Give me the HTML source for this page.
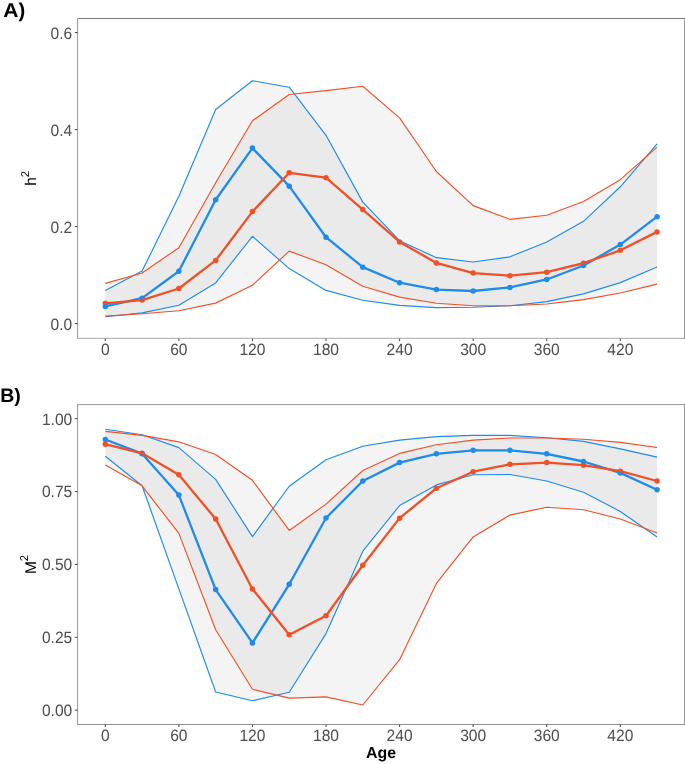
<!DOCTYPE html>
<html><head><meta charset="utf-8"><style>
html,body{margin:0;padding:0;background:#fff;}
body{width:685px;height:764px;overflow:hidden;}
svg{display:block;}
text{}
text{font-family:"Liberation Sans",sans-serif;text-rendering:geometricPrecision;}
.tk{font-size:15.6px;fill:#4D4D4D;}
.ttl{font-size:15.5px;fill:#000;}
.pl{font-size:19.5px;font-weight:bold;fill:#000;}
</style></head><body>
<svg width="685" height="764" viewBox="0 0 685 764" style="will-change:transform">
<polygon points="105.3,290.42 142.09,271.02 178.87,196.33 215.66,109.51 252.44,80.71 289.23,87.2 326.01,135.32 362.8,202.15 399.59,240.71 436.37,257.68 473.16,262 509.94,256.81 546.73,241.92 583.51,221.31 620.3,186.78 657.09,143.95 657.09,266.99 620.3,282.61 583.51,293.91 546.73,301.57 509.94,305.79 473.16,307.2 436.37,307.59 399.59,305.31 362.8,300.22 326.01,290.42 289.23,268.59 252.44,236.29 215.66,282.95 178.87,305.31 142.09,312.88 105.3,316.71" fill="#B3B3B3" fill-opacity="0.15"/>
<polygon points="105.3,283.39 142.09,272.96 178.87,247.74 215.66,182.75 252.44,120.82 289.23,94.48 326.01,90.6 362.8,86.28 399.59,117.91 436.37,171.5 473.16,205.59 509.94,219.32 546.73,215.24 583.51,201.42 620.3,179.69 657.09,147.1 657.09,284.11 620.3,292.99 583.51,299.63 546.73,304 509.94,305.79 473.16,305.79 436.37,303.22 399.59,297.11 362.8,286.2 326.01,264.71 289.23,251.13 252.44,285.28 215.66,303.13 178.87,310.79 142.09,313.8 105.3,316.12" fill="#B3B3B3" fill-opacity="0.15"/>
<circle cx="105.3" cy="303.32" r="2.75" fill="#F25026"/>
<circle cx="142.09" cy="300.12" r="2.75" fill="#F25026"/>
<circle cx="178.87" cy="288.48" r="2.75" fill="#F25026"/>
<circle cx="215.66" cy="260.45" r="2.75" fill="#F25026"/>
<circle cx="252.44" cy="211.61" r="2.75" fill="#F25026"/>
<circle cx="289.23" cy="172.81" r="2.75" fill="#F25026"/>
<circle cx="326.01" cy="177.71" r="2.75" fill="#F25026"/>
<circle cx="362.8" cy="209.62" r="2.75" fill="#F25026"/>
<circle cx="399.59" cy="241.92" r="2.75" fill="#F25026"/>
<circle cx="436.37" cy="262.92" r="2.75" fill="#F25026"/>
<circle cx="473.16" cy="273.11" r="2.75" fill="#F25026"/>
<circle cx="509.94" cy="275.72" r="2.75" fill="#F25026"/>
<circle cx="546.73" cy="272.14" r="2.75" fill="#F25026"/>
<circle cx="583.51" cy="263.21" r="2.75" fill="#F25026"/>
<circle cx="620.3" cy="250.31" r="2.75" fill="#F25026"/>
<circle cx="657.09" cy="231.88" r="2.75" fill="#F25026"/>
<circle cx="105.3" cy="306.42" r="2.75" fill="#1F8BEA"/>
<circle cx="142.09" cy="298.18" r="2.75" fill="#1F8BEA"/>
<circle cx="178.87" cy="271.21" r="2.75" fill="#1F8BEA"/>
<circle cx="215.66" cy="199.72" r="2.75" fill="#1F8BEA"/>
<circle cx="252.44" cy="148.12" r="2.75" fill="#1F8BEA"/>
<circle cx="289.23" cy="186.14" r="2.75" fill="#1F8BEA"/>
<circle cx="326.01" cy="237.22" r="2.75" fill="#1F8BEA"/>
<circle cx="362.8" cy="267.14" r="2.75" fill="#1F8BEA"/>
<circle cx="399.59" cy="282.71" r="2.75" fill="#1F8BEA"/>
<circle cx="436.37" cy="289.6" r="2.75" fill="#1F8BEA"/>
<circle cx="473.16" cy="291" r="2.75" fill="#1F8BEA"/>
<circle cx="509.94" cy="287.41" r="2.75" fill="#1F8BEA"/>
<circle cx="546.73" cy="279.46" r="2.75" fill="#1F8BEA"/>
<circle cx="583.51" cy="265.49" r="2.75" fill="#1F8BEA"/>
<circle cx="620.3" cy="244.59" r="2.75" fill="#1F8BEA"/>
<circle cx="657.09" cy="216.7" r="2.75" fill="#1F8BEA"/>
<polyline points="105.3,290.42 142.09,271.02 178.87,196.33 215.66,109.51 252.44,80.71 289.23,87.2 326.01,135.32 362.8,202.15 399.59,240.71 436.37,257.68 473.16,262 509.94,256.81 546.73,241.92 583.51,221.31 620.3,186.78 657.09,143.95" fill="none" stroke="#1F8BEA" stroke-width="1.15" stroke-linejoin="round"/>
<polyline points="105.3,316.71 142.09,312.88 178.87,305.31 215.66,282.95 252.44,236.29 289.23,268.59 326.01,290.42 362.8,300.22 399.59,305.31 436.37,307.59 473.16,307.2 509.94,305.79 546.73,301.57 583.51,293.91 620.3,282.61 657.09,266.99" fill="none" stroke="#1F8BEA" stroke-width="1.15" stroke-linejoin="round"/>
<polyline points="105.3,283.39 142.09,272.96 178.87,247.74 215.66,182.75 252.44,120.82 289.23,94.48 326.01,90.6 362.8,86.28 399.59,117.91 436.37,171.5 473.16,205.59 509.94,219.32 546.73,215.24 583.51,201.42 620.3,179.69 657.09,147.1" fill="none" stroke="#F25026" stroke-width="1.15" stroke-linejoin="round"/>
<polyline points="105.3,316.12 142.09,313.8 178.87,310.79 215.66,303.13 252.44,285.28 289.23,251.13 326.01,264.71 362.8,286.2 399.59,297.11 436.37,303.22 473.16,305.79 509.94,305.79 546.73,304 583.51,299.63 620.3,292.99 657.09,284.11" fill="none" stroke="#F25026" stroke-width="1.15" stroke-linejoin="round"/>
<polyline points="105.3,306.42 142.09,298.18 178.87,271.21 215.66,199.72 252.44,148.12 289.23,186.14 326.01,237.22 362.8,267.14 399.59,282.71 436.37,289.6 473.16,291 509.94,287.41 546.73,279.46 583.51,265.49 620.3,244.59 657.09,216.7" fill="none" stroke="#1F8BEA" stroke-width="2.3" stroke-linejoin="round"/>
<polyline points="105.3,303.32 142.09,300.12 178.87,288.48 215.66,260.45 252.44,211.61 289.23,172.81 326.01,177.71 362.8,209.62 399.59,241.92 436.37,262.92 473.16,273.11 509.94,275.72 546.73,272.14 583.51,263.21 620.3,250.31 657.09,231.88" fill="none" stroke="#F25026" stroke-width="2.3" stroke-linejoin="round"/>
<rect x="77" y="18" width="608" height="1" fill="#7A7A7A" shape-rendering="crispEdges"/>
<rect x="78" y="19" width="606" height="1" fill="#FAFAFA" shape-rendering="crispEdges"/>
<rect x="77" y="338" width="608" height="1" fill="#B8B8B8" shape-rendering="crispEdges"/>
<rect x="78" y="337" width="606" height="1" fill="#EFEFEF" shape-rendering="crispEdges"/>
<rect x="77" y="18" width="1" height="321" fill="#A0A0A0" shape-rendering="crispEdges"/>
<rect x="78" y="19" width="1" height="318" fill="#F4F4F4" shape-rendering="crispEdges"/>
<rect x="684" y="18" width="1" height="321" fill="#959595" shape-rendering="crispEdges"/>
<line x1="74.9" y1="323.55" x2="77.5" y2="323.55" stroke="#4A4A4A" stroke-width="1.05"/>
<text transform="translate(72.3,329.6) scale(1.0,1.05)" text-anchor="end" class="tk">0.0</text>
<line x1="74.9" y1="226.55" x2="77.5" y2="226.55" stroke="#4A4A4A" stroke-width="1.05"/>
<text transform="translate(72.3,232.6) scale(1.0,1.05)" text-anchor="end" class="tk">0.2</text>
<line x1="74.9" y1="129.55" x2="77.5" y2="129.55" stroke="#4A4A4A" stroke-width="1.05"/>
<text transform="translate(72.3,135.6) scale(1.0,1.05)" text-anchor="end" class="tk">0.4</text>
<line x1="74.9" y1="32.55" x2="77.5" y2="32.55" stroke="#4A4A4A" stroke-width="1.05"/>
<text transform="translate(72.3,38.6) scale(1.0,1.05)" text-anchor="end" class="tk">0.6</text>
<line x1="105.3" y1="338.4" x2="105.3" y2="341.0" stroke="#4A4A4A" stroke-width="1.05"/>
<text transform="translate(105.3,355.0) scale(1.0,1.05)" text-anchor="middle" class="tk">0</text>
<line x1="178.87" y1="338.4" x2="178.87" y2="341.0" stroke="#4A4A4A" stroke-width="1.05"/>
<text transform="translate(178.87,355.0) scale(1.0,1.05)" text-anchor="middle" class="tk">60</text>
<line x1="252.44" y1="338.4" x2="252.44" y2="341.0" stroke="#4A4A4A" stroke-width="1.05"/>
<text transform="translate(252.44,355.0) scale(1.0,1.05)" text-anchor="middle" class="tk">120</text>
<line x1="326.01" y1="338.4" x2="326.01" y2="341.0" stroke="#4A4A4A" stroke-width="1.05"/>
<text transform="translate(326.01,355.0) scale(1.0,1.05)" text-anchor="middle" class="tk">180</text>
<line x1="399.59" y1="338.4" x2="399.59" y2="341.0" stroke="#4A4A4A" stroke-width="1.05"/>
<text transform="translate(399.59,355.0) scale(1.0,1.05)" text-anchor="middle" class="tk">240</text>
<line x1="473.16" y1="338.4" x2="473.16" y2="341.0" stroke="#4A4A4A" stroke-width="1.05"/>
<text transform="translate(473.16,355.0) scale(1.0,1.05)" text-anchor="middle" class="tk">300</text>
<line x1="546.73" y1="338.4" x2="546.73" y2="341.0" stroke="#4A4A4A" stroke-width="1.05"/>
<text transform="translate(546.73,355.0) scale(1.0,1.05)" text-anchor="middle" class="tk">360</text>
<line x1="620.3" y1="338.4" x2="620.3" y2="341.0" stroke="#4A4A4A" stroke-width="1.05"/>
<text transform="translate(620.3,355.0) scale(1.0,1.05)" text-anchor="middle" class="tk">420</text>
<polygon points="105.3,429.29 142.09,434.71 178.87,447.65 215.66,479.4 252.44,536.59 289.23,486.22 326.01,459.69 362.8,446.28 399.59,440.1 436.37,436.61 473.16,435.41 509.94,435.41 546.73,437.71 583.51,441.39 620.3,448.91 657.09,457.1 657.09,537 620.3,511.41 583.51,492.2 546.73,481 509.94,474.5 473.16,474.79 436.37,484.91 399.59,505.6 362.8,551.22 326.01,633.6 289.23,692.31 252.44,700.71 215.66,691.99 178.87,588.83 142.09,485.81 105.3,456.31" fill="#B3B3B3" fill-opacity="0.15"/>
<polygon points="105.3,431.42 142.09,435.41 178.87,441.82 215.66,454.5 252.44,480.3 289.23,530.41 326.01,504.15 362.8,470.48 399.59,453.4 436.37,444.71 473.16,440.1 509.94,438.01 546.73,438.01 583.51,439.29 620.3,442.41 657.09,447.51 657.09,533.01 620.3,519.01 583.51,509.71 546.73,507.21 509.94,515.08 473.16,536.91 436.37,583.41 399.59,659.69 362.8,704.99 326.01,696.89 289.23,698.11 252.44,689.31 215.66,629.81 178.87,533.41 142.09,485.81 105.3,465.11" fill="#B3B3B3" fill-opacity="0.15"/>
<circle cx="105.3" cy="444.19" r="2.75" fill="#F25026"/>
<circle cx="142.09" cy="453.28" r="2.75" fill="#F25026"/>
<circle cx="178.87" cy="474.71" r="2.75" fill="#F25026"/>
<circle cx="215.66" cy="519.01" r="2.75" fill="#F25026"/>
<circle cx="252.44" cy="588.94" r="2.75" fill="#F25026"/>
<circle cx="289.23" cy="634.71" r="2.75" fill="#F25026"/>
<circle cx="326.01" cy="615.7" r="2.75" fill="#F25026"/>
<circle cx="362.8" cy="565.3" r="2.75" fill="#F25026"/>
<circle cx="399.59" cy="518.14" r="2.75" fill="#F25026"/>
<circle cx="436.37" cy="488.26" r="2.75" fill="#F25026"/>
<circle cx="473.16" cy="471.7" r="2.75" fill="#F25026"/>
<circle cx="509.94" cy="464.3" r="2.75" fill="#F25026"/>
<circle cx="546.73" cy="462.61" r="2.75" fill="#F25026"/>
<circle cx="583.51" cy="465.2" r="2.75" fill="#F25026"/>
<circle cx="620.3" cy="471.21" r="2.75" fill="#F25026"/>
<circle cx="657.09" cy="481" r="2.75" fill="#F25026"/>
<circle cx="105.3" cy="439.49" r="2.75" fill="#1F8BEA"/>
<circle cx="142.09" cy="453.69" r="2.75" fill="#1F8BEA"/>
<circle cx="178.87" cy="495.11" r="2.75" fill="#1F8BEA"/>
<circle cx="215.66" cy="589.61" r="2.75" fill="#1F8BEA"/>
<circle cx="252.44" cy="642.96" r="2.75" fill="#1F8BEA"/>
<circle cx="289.23" cy="584.31" r="2.75" fill="#1F8BEA"/>
<circle cx="326.01" cy="517.99" r="2.75" fill="#1F8BEA"/>
<circle cx="362.8" cy="481" r="2.75" fill="#1F8BEA"/>
<circle cx="399.59" cy="462.61" r="2.75" fill="#1F8BEA"/>
<circle cx="436.37" cy="453.8" r="2.75" fill="#1F8BEA"/>
<circle cx="473.16" cy="450.31" r="2.75" fill="#1F8BEA"/>
<circle cx="509.94" cy="450.31" r="2.75" fill="#1F8BEA"/>
<circle cx="546.73" cy="453.8" r="2.75" fill="#1F8BEA"/>
<circle cx="583.51" cy="461.5" r="2.75" fill="#1F8BEA"/>
<circle cx="620.3" cy="472.9" r="2.75" fill="#1F8BEA"/>
<circle cx="657.09" cy="489.69" r="2.75" fill="#1F8BEA"/>
<polyline points="105.3,429.29 142.09,434.71 178.87,447.65 215.66,479.4 252.44,536.59 289.23,486.22 326.01,459.69 362.8,446.28 399.59,440.1 436.37,436.61 473.16,435.41 509.94,435.41 546.73,437.71 583.51,441.39 620.3,448.91 657.09,457.1" fill="none" stroke="#1F8BEA" stroke-width="1.15" stroke-linejoin="round"/>
<polyline points="105.3,456.31 142.09,485.81 178.87,588.83 215.66,691.99 252.44,700.71 289.23,692.31 326.01,633.6 362.8,551.22 399.59,505.6 436.37,484.91 473.16,474.79 509.94,474.5 546.73,481 583.51,492.2 620.3,511.41 657.09,537" fill="none" stroke="#1F8BEA" stroke-width="1.15" stroke-linejoin="round"/>
<polyline points="105.3,431.42 142.09,435.41 178.87,441.82 215.66,454.5 252.44,480.3 289.23,530.41 326.01,504.15 362.8,470.48 399.59,453.4 436.37,444.71 473.16,440.1 509.94,438.01 546.73,438.01 583.51,439.29 620.3,442.41 657.09,447.51" fill="none" stroke="#F25026" stroke-width="1.15" stroke-linejoin="round"/>
<polyline points="105.3,465.11 142.09,485.81 178.87,533.41 215.66,629.81 252.44,689.31 289.23,698.11 326.01,696.89 362.8,704.99 399.59,659.69 436.37,583.41 473.16,536.91 509.94,515.08 546.73,507.21 583.51,509.71 620.3,519.01 657.09,533.01" fill="none" stroke="#F25026" stroke-width="1.15" stroke-linejoin="round"/>
<polyline points="105.3,439.49 142.09,453.69 178.87,495.11 215.66,589.61 252.44,642.96 289.23,584.31 326.01,517.99 362.8,481 399.59,462.61 436.37,453.8 473.16,450.31 509.94,450.31 546.73,453.8 583.51,461.5 620.3,472.9 657.09,489.69" fill="none" stroke="#1F8BEA" stroke-width="2.3" stroke-linejoin="round"/>
<polyline points="105.3,444.19 142.09,453.28 178.87,474.71 215.66,519.01 252.44,588.94 289.23,634.71 326.01,615.7 362.8,565.3 399.59,518.14 436.37,488.26 473.16,471.7 509.94,464.3 546.73,462.61 583.51,465.2 620.3,471.21 657.09,481" fill="none" stroke="#F25026" stroke-width="2.3" stroke-linejoin="round"/>
<rect x="77" y="404" width="608" height="1" fill="#A0A0A0" shape-rendering="crispEdges"/>
<rect x="78" y="405" width="606" height="1" fill="#F5F5F5" shape-rendering="crispEdges"/>
<rect x="77" y="724" width="608" height="1" fill="#8E8E8E" shape-rendering="crispEdges"/>
<rect x="77" y="404" width="1" height="321" fill="#A0A0A0" shape-rendering="crispEdges"/>
<rect x="78" y="405" width="1" height="319" fill="#F4F4F4" shape-rendering="crispEdges"/>
<rect x="684" y="404" width="1" height="321" fill="#959595" shape-rendering="crispEdges"/>
<line x1="74.9" y1="710.2" x2="77.5" y2="710.2" stroke="#4A4A4A" stroke-width="1.05"/>
<text transform="translate(72.3,716) scale(1.0,1.05)" text-anchor="end" class="tk">0.00</text>
<line x1="74.9" y1="637.32" x2="77.5" y2="637.32" stroke="#4A4A4A" stroke-width="1.05"/>
<text transform="translate(72.3,643.12) scale(1.0,1.05)" text-anchor="end" class="tk">0.25</text>
<line x1="74.9" y1="564.45" x2="77.5" y2="564.45" stroke="#4A4A4A" stroke-width="1.05"/>
<text transform="translate(72.3,570.25) scale(1.0,1.05)" text-anchor="end" class="tk">0.50</text>
<line x1="74.9" y1="491.57" x2="77.5" y2="491.57" stroke="#4A4A4A" stroke-width="1.05"/>
<text transform="translate(72.3,497.37) scale(1.0,1.05)" text-anchor="end" class="tk">0.75</text>
<line x1="74.9" y1="418.7" x2="77.5" y2="418.7" stroke="#4A4A4A" stroke-width="1.05"/>
<text transform="translate(72.3,424.5) scale(1.0,1.05)" text-anchor="end" class="tk">1.00</text>
<line x1="105.3" y1="724.4" x2="105.3" y2="727.0" stroke="#4A4A4A" stroke-width="1.05"/>
<text transform="translate(105.3,741.0) scale(1.0,1.05)" text-anchor="middle" class="tk">0</text>
<line x1="178.87" y1="724.4" x2="178.87" y2="727.0" stroke="#4A4A4A" stroke-width="1.05"/>
<text transform="translate(178.87,741.0) scale(1.0,1.05)" text-anchor="middle" class="tk">60</text>
<line x1="252.44" y1="724.4" x2="252.44" y2="727.0" stroke="#4A4A4A" stroke-width="1.05"/>
<text transform="translate(252.44,741.0) scale(1.0,1.05)" text-anchor="middle" class="tk">120</text>
<line x1="326.01" y1="724.4" x2="326.01" y2="727.0" stroke="#4A4A4A" stroke-width="1.05"/>
<text transform="translate(326.01,741.0) scale(1.0,1.05)" text-anchor="middle" class="tk">180</text>
<line x1="399.59" y1="724.4" x2="399.59" y2="727.0" stroke="#4A4A4A" stroke-width="1.05"/>
<text transform="translate(399.59,741.0) scale(1.0,1.05)" text-anchor="middle" class="tk">240</text>
<line x1="473.16" y1="724.4" x2="473.16" y2="727.0" stroke="#4A4A4A" stroke-width="1.05"/>
<text transform="translate(473.16,741.0) scale(1.0,1.05)" text-anchor="middle" class="tk">300</text>
<line x1="546.73" y1="724.4" x2="546.73" y2="727.0" stroke="#4A4A4A" stroke-width="1.05"/>
<text transform="translate(546.73,741.0) scale(1.0,1.05)" text-anchor="middle" class="tk">360</text>
<line x1="620.3" y1="724.4" x2="620.3" y2="727.0" stroke="#4A4A4A" stroke-width="1.05"/>
<text transform="translate(620.3,741.0) scale(1.0,1.05)" text-anchor="middle" class="tk">420</text>
<text transform="translate(3.2,16.8) scale(1.08,1.02)" class="pl">A</text>
<text x="18.4" y="16.9" class="pl" style="font-size:20.2px">)</text>
<text x="0.2" y="402" class="pl">B)</text>
<text transform="translate(36.2,178.3) rotate(-90)" text-anchor="middle" class="ttl">h<tspan dy="-7.6" font-size="11.3">2</tspan></text>
<text transform="translate(36,564.5) rotate(-90)" text-anchor="middle" class="ttl">M<tspan dy="-7.6" font-size="11.3">2</tspan></text>
<text x="381" y="757.8" text-anchor="middle" class="ttl" style="font-weight:bold;font-size:15.9px">Age</text>
</svg>
</body></html>
